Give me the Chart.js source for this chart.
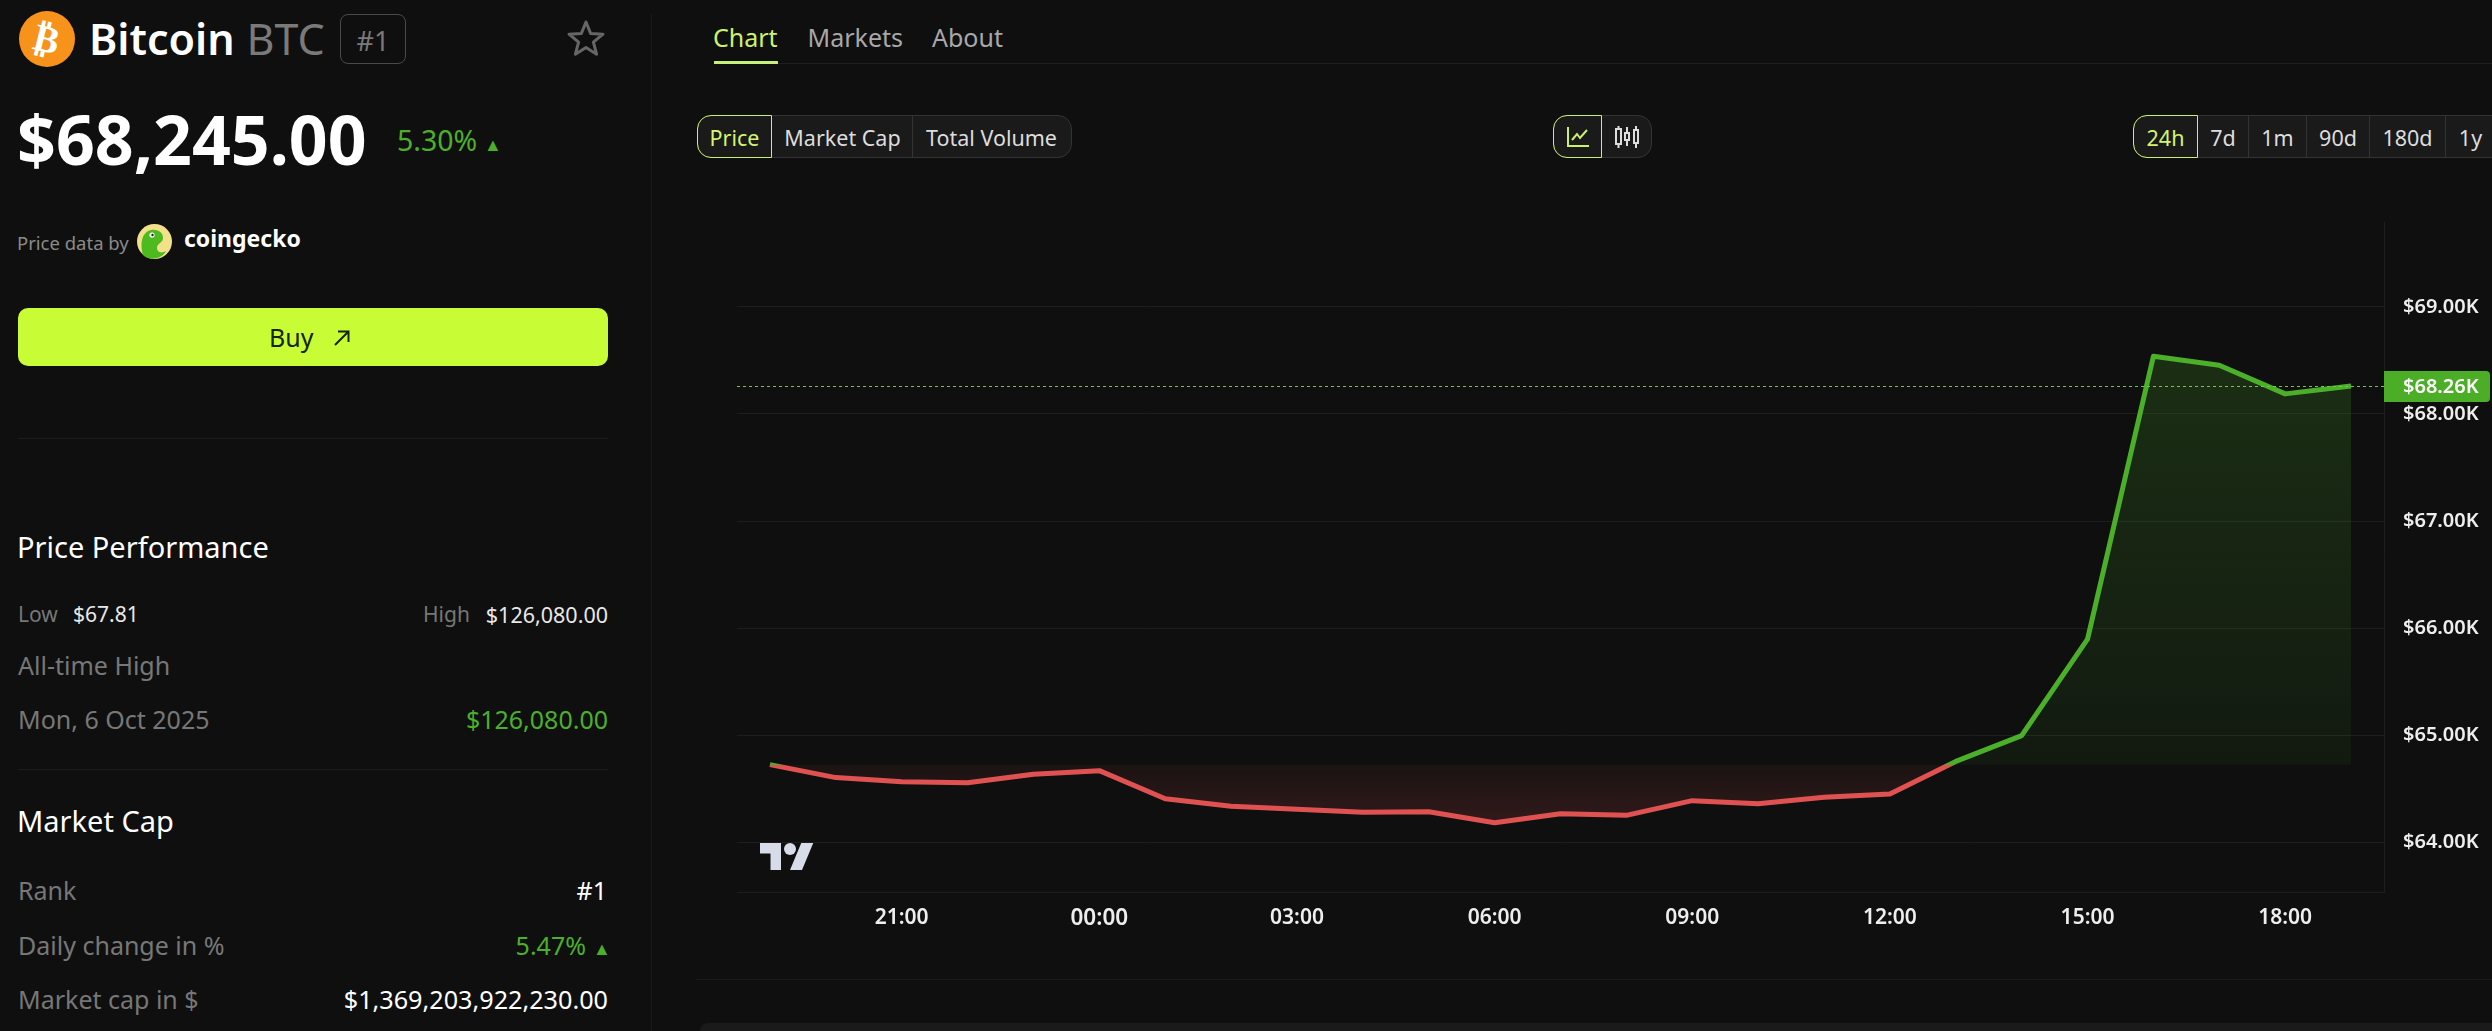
<!DOCTYPE html>
<html lang="en">
<head>
<meta charset="utf-8">
<title>Bitcoin BTC</title>
<script src="https://cdn.jsdelivr.net/npm/chart.js@4"></script>
<style>
    html, body { margin: 0; padding: 0; }
    body { position: relative; width: 2492px; height: 1031px; overflow: hidden; background: #0f0f0f; font-family: "Noto Sans", sans-serif; color: #fff; }
    .t { position: absolute; white-space: nowrap; line-height: 1; }
    .rule { position: absolute; height: 1px; background: #1c1c1c; }
    .grey { color: #777; }
    .green { color: #4caf2a; }
    .group { position: absolute; top: 115px; height: 41px; background: #1a1a1a; border: 1px solid #333; border-radius: 14px; box-sizing: content-box; }
    .seg { position: absolute; top: 115px; height: 43px; box-sizing: border-box; display: flex; align-items: center; justify-content: center; font-size: 21.5px; color: #ddd; border-right: 1px solid #333; padding-top: 1px; }
    .seg.on { color: #d4f56e; border: 1.5px solid #c8f075; border-radius: 14px 0 0 14px; }
    #chartBox { position: absolute; left: 700px; top: 180px; width: 1792px; height: 780px; }
    #tvLogo { position: absolute; left: 760px; top: 843px; width: 54px; height: 27px; }
</style>
</head>
<body>

<!-- sidebar -->
<div style="position:absolute;left:651px;top:14px;width:1px;height:1017px;background:#1a1a1a"></div>
<div style="position:absolute;left:19px;top:11px;width:56px;height:56px;border-radius:50%;background:#f7931a;display:flex;align-items:center;justify-content:center">
    <span style="font:bold 38px 'DejaVu Sans';color:#fff;transform:rotate(14deg)">₿</span>
</div>
<span class="t" style="left:89px;top:17px;font-size:43px;font-weight:600">Bitcoin</span>
<span class="t" style="left:246.5px;top:17px;font-size:43px;color:#7a7a7a">BTC</span>
<div style="position:absolute;left:340px;top:14px;width:66px;height:50px;box-sizing:border-box;border:1px solid #4a4a4a;border-radius:8px;display:flex;align-items:center;justify-content:center;font-size:27px;color:#7a7a7a;padding-top:3px">#1</div>
<svg style="position:absolute;left:566px;top:18px" width="40" height="40" viewBox="0 0 40 40"><path d="M20 4 L24.6 15.4 L37 16.2 L27.4 24.2 L30.6 36.2 L20 29.6 L9.4 36.2 L12.6 24.2 L3 16.2 L15.4 15.4 Z" fill="none" stroke="#666" stroke-width="3" stroke-linejoin="round"/></svg>

<span class="t" style="left:17px;top:105.3px;font-size:68px;font-weight:700">$68,245.00</span>
<span class="t green" style="left:397px;top:125.7px;font-size:28.5px">5.30%</span>
<span class="t green" style="left:484px;top:135px;font-size:18px">▲</span>

<span class="t" style="left:17px;top:234.3px;font-size:18.5px;color:#8a8a8a">Price data by</span>
<svg style="position:absolute;left:137px;top:224px" width="35" height="35" viewBox="0 0 35 35">
    <circle cx="17.5" cy="17.5" r="17.5" fill="#f2e08a"/>
    <path d="M6 31 C3 22 4 8 14 6 C22 5 26 9 26 14 C26 19 20 19 20 24 C20 28 24 30 29 27 C26 34 13 38 6 31Z" fill="#4dbb1f"/>
    <circle cx="15" cy="11" r="2.6" fill="#fff"/><circle cx="15.5" cy="11" r="1.2" fill="#123"/>
</svg>
<span class="t" style="left:184px;top:227px;font-size:23px;font-weight:700">coingecko</span>

<div style="position:absolute;left:18px;top:308px;width:590px;height:58px;background:#c8fd36;border-radius:10px"></div>
<span class="t" style="left:269px;top:324.5px;font-size:25px;color:#16240c">Buy</span>
<svg style="position:absolute;left:333px;top:329px" width="18" height="18" viewBox="0 0 18 18"><path d="M2 16 L15 3 M5 2.5 H15.5 V13" fill="none" stroke="#16240c" stroke-width="2"/></svg>

<div class="rule" style="left:18px;top:438px;width:590px"></div>

<span class="t" style="left:17px;top:532px;font-size:29px">Price Performance</span>
<span class="t grey" style="left:18px;top:604px;font-size:21px">Low</span>
<span class="t" style="left:73px;top:604px;font-size:21px;color:#e8e8e8">$67.81</span>
<span class="t grey" style="left:423px;top:604px;font-size:21px">High</span>
<span class="t" style="right:1884px;top:604px;font-size:21.5px;color:#e8e8e8">$126,080.00</span>
<span class="t grey" style="left:18px;top:653.2px;font-size:25px">All-time High</span>
<span class="t grey" style="left:18px;top:707.4px;font-size:25px">Mon, 6 Oct 2025</span>
<span class="t green" style="right:1884px;top:707.4px;font-size:25px">$126,080.00</span>

<div class="rule" style="left:18px;top:769px;width:590px"></div>

<span class="t" style="left:17px;top:806px;font-size:29px">Market Cap</span>
<span class="t grey" style="left:18px;top:878.4px;font-size:25px">Rank</span>
<span class="t" style="right:1885px;top:878.4px;font-size:25px">#1</span>
<span class="t grey" style="left:18px;top:933.2px;font-size:25px">Daily change in %</span>
<span class="t green" style="right:1906px;top:933.2px;font-size:25px">5.47%</span>
<span class="t green" style="left:593px;top:939px;font-size:18px">▲</span>
<span class="t grey" style="left:18px;top:987.4px;font-size:25px">Market cap in $</span>
<span class="t" style="right:1884px;top:987.4px;font-size:25.2px">$1,369,203,922,230.00</span>

<!-- tabs -->
<span class="t" style="left:713px;top:24.5px;font-size:25px;color:#ccf26c">Chart</span>
<span class="t" style="left:807.5px;top:24.5px;font-size:25px;color:#a8a8a8">Markets</span>
<span class="t" style="left:932px;top:24.5px;font-size:25px;color:#a8a8a8">About</span>
<div class="rule" style="left:714px;top:63px;width:1778px;background:#1e1e1e"></div>
<div style="position:absolute;left:714px;top:61px;width:64px;height:3px;background:#c6ef7a"></div>

<!-- metric buttons -->
<div class="group" style="left:697px;width:373px"></div>
<div class="seg on" style="left:697px;width:75px">Price</div>
<div class="seg" style="left:773px;width:140px">Market Cap</div>
<div class="seg" style="left:913px;width:157px;border-right:0">Total Volume</div>

<!-- chart type buttons -->
<div class="group" style="left:1553px;width:97px"></div>
<div class="seg on" style="left:1553px;width:49px">
    <svg width="24" height="24" viewBox="0 0 24 24"><path d="M2 2 V21 H23 M6 15 L11 9 L14 13 L21 5" fill="none" stroke="#c8f075" stroke-width="2"/></svg>
</div>
<div class="seg" style="left:1602px;width:49px;border-right:0">
    <svg width="26" height="24" viewBox="0 0 26 24" fill="none" stroke="#ddd" stroke-width="2"><rect x="2" y="4" width="5" height="15"/><path d="M4.5 1 V4 M4.5 19 V23"/><rect x="11" y="8" width="4" height="7"/><path d="M13 2 V8 M13 15 V21"/><rect x="20" y="5" width="4" height="13"/><path d="M22 1 V5 M22 18 V23"/></svg>
</div>

<!-- range buttons -->
<div class="group" style="left:2133px;width:400px"></div>
<div class="seg on" style="left:2133px;width:65px">24h</div>
<div class="seg" style="left:2198px;width:51px">7d</div>
<div class="seg" style="left:2249px;width:58px">1m</div>
<div class="seg" style="left:2307px;width:63px">90d</div>
<div class="seg" style="left:2370px;width:76px">180d</div>
<div class="seg" style="left:2446px;width:49px;border-right:0">1y</div>

<div id="chartBox"><canvas id="priceChart" width="1792" height="780"></canvas></div>

<svg id="tvLogo" viewBox="0 4 36 18" preserveAspectRatio="none"><path d="M14 22H7V11H0V4h14v18zM28 22h-8l7.5-18h8L28 22z" fill="#d8dce8"/><circle cx="20" cy="8" r="4" fill="#d8dce8"/></svg>

<div class="rule" style="left:696px;top:979px;width:1796px"></div>
<div style="position:absolute;left:700px;top:1023px;width:1792px;height:20px;background:#1a1a1a;border-radius:8px 0 0 0"></div>

<script>
const hours = ['19:00', '20:00', '21:00', '22:00', '23:00', '00:00', '01:00', '02:00', '03:00', '04:00', '05:00', '06:00', '07:00',
    '08:00', '09:00', '10:00', '11:00', '12:00', '13:00', '14:00', '15:00', '16:00', '17:00', '18:00', '19:00'];
const prices = [64725, 64604, 64566, 64557, 64636, 64669, 64407, 64336, 64308, 64280, 64286, 64183, 64267,
    64252, 64389, 64361, 64421, 64451, 64755, 64996, 65897, 68538, 68454, 68187, 68260];
const xTickLabels = ['21:00', '00:00', '03:00', '06:00', '09:00', '12:00', '15:00', '18:00'];
const yTicks = [64000, 65000, 66000, 67000, 68000, 69000];
const yMin = 63536;
const yMax = 69792;
const baseline = 64725;
const lastPrice = 68260;

const GREEN = '#4caf2a';
const RED = '#e05252';
const TICK_FONT = '"Noto Sans", sans-serif';

const money = v => '$' + (v / 1000).toFixed(2) + 'K';

// line colour flips where it crosses the baseline
function lineGradient(context) {
    const chart = context.chart;
    if (!chart.chartArea) return GREEN;
    const { top, bottom } = chart.chartArea;
    const f = (chart.scales.y.getPixelForValue(baseline) - top) / (bottom - top);
    const g = chart.ctx.createLinearGradient(0, top, 0, bottom);
    g.addColorStop(0, GREEN);
    g.addColorStop(f, GREEN);
    g.addColorStop(f, RED);
    g.addColorStop(1, RED);
    return g;
}

function fillGradient(context, edgeValue, edgeColor, baseColor) {
    const chart = context.chart;
    if (!chart.chartArea) return baseColor;
    const y = chart.scales.y;
    const g = chart.ctx.createLinearGradient(0, y.getPixelForValue(edgeValue), 0, y.getPixelForValue(baseline));
    g.addColorStop(0, edgeColor);
    g.addColorStop(1, baseColor);
    return g;
}

// dashed last price line and its label on the axis
const lastPricePlugin = {
    id: 'lastPrice',
    afterDraw(chart) {
        const { ctx, chartArea, scales } = chart;
        const y = Math.round(scales.y.getPixelForValue(lastPrice)) + 0.5;
        ctx.save();
        ctx.strokeStyle = '#6fc83e';
        ctx.lineWidth = 1;
        ctx.setLineDash([3, 3]);
        ctx.beginPath();
        ctx.moveTo(chartArea.left, y);
        ctx.lineTo(chartArea.right, y);
        ctx.stroke();
        ctx.setLineDash([]);
        ctx.fillStyle = '#4bae26';
        ctx.beginPath();
        ctx.roundRect(chartArea.right, y - 15.5, 106, 31, [0, 4, 4, 0]);
        ctx.fill();
        ctx.fillStyle = '#fff';
        ctx.font = '600 20px ' + TICK_FONT;
        ctx.textAlign = 'left';
        ctx.textBaseline = 'middle';
        ctx.fillText(money(lastPrice), chartArea.right + 19, y + 1);
        ctx.restore();
    }
};

new Chart(document.getElementById('priceChart'), {
    type: 'line',
    data: {
        labels: hours,
        datasets: [{
            data: prices,
            borderWidth: 5,
            borderColor: lineGradient,
            borderJoinStyle: 'round',
            pointRadius: 0,
            tension: 0,
            fill: {
                target: { value: baseline },
                above: c => fillGradient(c, Math.max(...prices), 'rgba(76, 175, 42, 0.2)', 'rgba(76, 175, 42, 0.07)'),
                below: c => fillGradient(c, Math.min(...prices), 'rgba(224, 82, 82, 0.17)', 'rgba(224, 82, 82, 0.06)')
            }
        }]
    },
    options: {
        responsive: false,
        animation: false,
        layout: { padding: { left: 37, top: 42 } },
        plugins: { legend: { display: false }, tooltip: { enabled: false } },
        scales: {
            x: {
                type: 'category',
                offset: true,
                afterFit: s => { s.height = 68; },
                grid: { display: false, drawTicks: false },
                border: { color: '#1e1e1e' },
                ticks: {
                    autoSkip: false,
                    maxRotation: 0,
                    padding: 13,
                    color: '#eee',
                    font: c => ({
                        family: TICK_FONT,
                        size: c.tick && c.tick.label === '00:00' ? 22.5 : 21,
                        weight: 600
                    }),
                    callback(value) {
                        const label = this.getLabelForValue(value);
                        return xTickLabels.includes(label) ? label : null;
                    }
                }
            },
            y: {
                position: 'right',
                min: yMin,
                max: yMax,
                afterFit: s => { s.width = 108; },
                afterBuildTicks: s => { s.ticks = yTicks.map(value => ({ value })); },
                grid: { color: '#1e1e1e', drawTicks: false },
                border: { color: '#1e1e1e' },
                ticks: {
                    padding: 19,
                    color: '#eee',
                    font: { family: TICK_FONT, size: 20, weight: 600 },
                    callback: money
                }
            }
        }
    },
    plugins: [lastPricePlugin]
});
</script>
</body>
</html>
